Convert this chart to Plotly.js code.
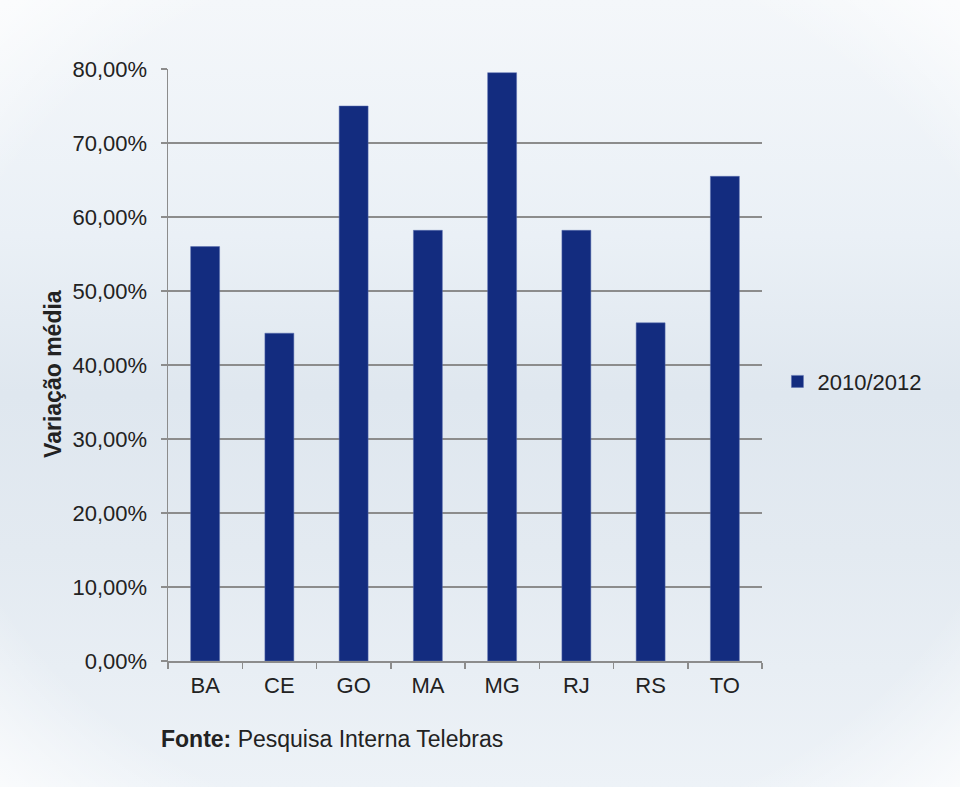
<!DOCTYPE html>
<html>
<head>
<meta charset="utf-8">
<script src="https://cdn.plot.ly/plotly-3.0.1.min.js"></script>
<style>html,body{margin:0;padding:0;background:#ffffff;}#chart{width:960px;height:787px;}</style>
</head>
<body>
<div id="chart"></div>
<script>
const categories = ["BA", "CE", "GO", "MA", "MG", "RJ", "RS", "TO"];
const seriesName = "2010/2012";
const values = [0.560, 0.443, 0.750, 0.582, 0.795, 0.582, 0.457, 0.655];
const yTicks = [0, 0.1, 0.2, 0.3, 0.4, 0.5, 0.6, 0.7, 0.8];
const yTitle = "Variação média";
const sourceText = "<b>Fonte:</b> Pesquisa Interna Telebras";

const bgSvg = '<svg xmlns="http://www.w3.org/2000/svg" width="960" height="787">' +
  '<defs><linearGradient id="g" x1="0" y1="0" x2="0" y2="1">' +
  '<stop offset="0" stop-color="#f4f7fa"/><stop offset="0.3" stop-color="#eaf0f6"/>' +
  '<stop offset="0.5" stop-color="#dfe7ef"/><stop offset="0.7" stop-color="#e3eaf1"/>' +
  '<stop offset="1" stop-color="#edf2f7"/></linearGradient>' +
  '<radialGradient id="v" cx="0.5" cy="0.5" r="0.75"><stop offset="0.75" stop-color="#ffffff" stop-opacity="0"/>' +
  '<stop offset="1" stop-color="#ffffff" stop-opacity="0.9"/></radialGradient></defs>' +
  '<rect width="960" height="787" fill="url(#g)"/><rect width="960" height="787" fill="url(#v)"/></svg>';
const bgUri = 'data:image/svg+xml;charset=utf-8,' + encodeURIComponent(bgSvg);

const trace = {
  type: 'bar',
  x: categories,
  y: values,
  name: seriesName,
  showlegend: true,
  marker: {color: '#132c7f', line: {color: '#5a6fb0', width: 0.5}},
  hoverinfo: 'x+y'
};

const layout = {
  width: 960,
  height: 787,
  margin: {l: 168, r: 198, t: 69, b: 126, pad: 0},
  paper_bgcolor: '#eaf0f6',
  plot_bgcolor: 'rgba(0,0,0,0)',
  separators: ',.',
  font: {family: 'Liberation Sans, Arial, sans-serif', color: '#222222', size: 22},
  bargap: 0.61,
  images: [{source: bgUri, xref: 'paper', yref: 'paper', x: -168/594, y: 1 + 69/592,
    sizex: 960/594, sizey: 787/592, xanchor: 'left', yanchor: 'top', sizing: 'stretch', layer: 'below'}],
  xaxis: {
    type: 'category',
    showline: true, linecolor: '#8c8c8c', linewidth: 1.5,
    ticks: 'outside', tickson: 'boundaries', ticklen: 6, tickcolor: '#8c8c8c', tickwidth: 1.5,
    ticklabelstandoff: 4,
    tickfont: {size: 22, color: '#222'},
    showgrid: false, zeroline: false, fixedrange: true
  },
  yaxis: {
    range: [0, 0.8],
    tickvals: yTicks,
    tickformat: '.2%',
    showline: true, linecolor: '#8c8c8c', linewidth: 1.5,
    ticks: 'outside', ticklen: 6, tickcolor: '#8c8c8c', tickwidth: 1.5,
    ticklabelstandoff: 9,
    tickfont: {size: 22, color: '#222'},
    showgrid: true, gridcolor: '#8c8c8c', gridwidth: 1.3,
    zeroline: false, fixedrange: true
  },
  legend: {
    x: 1.026, xanchor: 'left', y: 0.472, yanchor: 'middle',
    bgcolor: 'rgba(0,0,0,0)', font: {size: 22, color: '#222'},
    itemwidth: 30
  },
  annotations: [
    {text: '<b>' + yTitle + '</b>', xref: 'paper', yref: 'paper', x: -0.1936, y: 0.485,
     xanchor: 'center', yanchor: 'middle', textangle: -90, showarrow: false,
     font: {size: 23, color: '#222'}},
    {text: sourceText, xref: 'paper', yref: 'paper', x: -0.015, y: -0.1318,
     xanchor: 'left', yanchor: 'middle', showarrow: false,
     font: {size: 23, color: '#222'}}
  ]
};

Plotly.newPlot('chart', [trace], layout, {displayModeBar: false, staticPlot: true});
</script>
</body>
</html>
